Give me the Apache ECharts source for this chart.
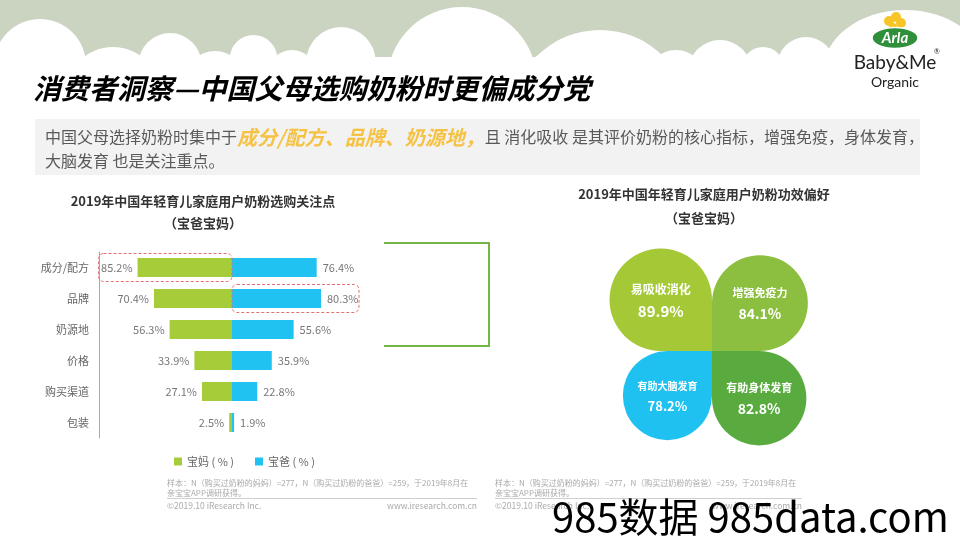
<!DOCTYPE html>
<html><head><meta charset="utf-8">
<script src="https://cdn.jsdelivr.net/npm/echarts@6/dist/echarts.min.js"></script>
<style>html,body{margin:0;padding:0;background:#fff}#c{width:960px;height:540px}</style>
</head><body><div id="c"></div>
<script>
// ---------- data ----------
const categories = ['成分/配方', '品牌', '奶源地', '价格', '购买渠道', '包装'];
const momValues = [85.2, 70.4, 56.3, 33.9, 27.1, 2.5];
const dadValues = [76.4, 80.3, 55.6, 35.9, 22.8, 1.9];
const seriesNames = ['宝妈 ( % )', '宝爸 ( % )'];
const effectNames = ['易吸收消化', '增强免疫力', '有助大脑发育', '有助身体发育'];
const effectValues = [89.9, 84.1, 78.2, 82.8];
const highlightRows = [{ cat: '成分/配方', side: 0 }, { cat: '品牌', side: 1 }];

const pageTitle = '消费者洞察—中国父母选购奶粉时更偏成分党';
const introA = '中国父母选择奶粉时集中于';
const introH = '成分/配方、品牌、奶源地，';
const introB = '且 消化吸收 是其评价奶粉的核心指标，增强免疫，身体发育，';
const introC = '大脑发育 也是关注重点。';
const leftTitle = '2019年中国年轻育儿家庭用户奶粉选购关注点';
const rightTitle = '2019年中国年轻育儿家庭用户奶粉功效偏好';
const subTitle = '（宝爸宝妈）';
const note1 = '样本：N（购买过奶粉的妈妈）=277，N（购买过奶粉的爸爸）=259，于2019年8月在';
const note2 = '亲宝宝APP调研获得。';
const copyright = '©2019.10 iResearch Inc.';
const site = 'www.iresearch.com.cn';
const watermark = '985数据 985data.com';

// ---------- layout / style ----------
const FONT = '"Noto Sans CJK SC", "Noto Sans", sans-serif';
const MOM_COLOR = '#a6cc39';
const DAD_COLOR = '#1fc2f0';
const QUAD = [[-1, 1], [1, 1], [-1, -1], [1, -1]];
const LEAF_COLORS = ['#a5c936', '#8cbf40', '#1ec1ef', '#5aab3f'];
const RADII = [[1, 1, 0, 1], [1, 1, 1, 0], [1, 0, 1, 1], [0, 1, 1, 1]];
const CLOUDS = [[40, 65, 46], [113, 95, 48], [170, 64.5, 31.5], [215, 81, 30], [253.5, 58.8, 23.8],
  [292, 75, 25], [341, 61.6, 34.6], [462, 81.8, 74.8], [600, 119.8, 89.8], [676, 79.7, 29.7],
  [720, 71.8, 31.8], [763, 68, 21], [806, 65.5, 28.5]];

const chart = echarts.init(document.getElementById('c'));

function renderLeaf(params, api) {
  const i = params.dataIndex;
  const c0 = api.coord([0, 0]);
  const c1 = api.coord([api.value(0), api.value(1)]);
  const x = Math.min(c0[0], c1[0]), y = Math.min(c0[1], c1[1]);
  const w = Math.abs(c1[0] - c0[0]), h = Math.abs(c1[1] - c0[1]);
  const R = Math.min(w, h) / 2;
  const cx = x + w / 2, cy = y + h / 2, s = (w + h) / 2;
  return {
    type: 'group',
    children: [
      { type: 'rect', shape: { x: x, y: y, width: w, height: h, r: RADII[i].map(k => k * R) }, style: { fill: LEAF_COLORS[i] } },
      { type: 'text', x: cx, y: cy - 0.105 * s, style: { text: effectNames[i], fill: '#fff', fontSize: Math.round(s * 0.115), fontWeight: 'bold', fontFamily: FONT, align: 'center', verticalAlign: 'middle' } },
      { type: 'text', x: cx, y: cy + 0.115 * s, style: { text: api.value(2).toFixed(1) + '%', fill: '#fff', fontSize: Math.round(s * 0.148), fontWeight: 'bold', fontFamily: FONT, align: 'center', verticalAlign: 'middle' } }
    ]
  };
}

const graphics = [];
graphics.push({ type: 'rect', silent: true, shape: { x: 0, y: 0, width: 960, height: 57 }, style: { fill: '#cbd4c1' } });
CLOUDS.forEach(c => graphics.push({ type: 'circle', silent: true, shape: { cx: c[0], cy: c[1], r: c[2] }, style: { fill: '#fff' } }));
graphics.push({ type: 'ellipse', silent: true, shape: { cx: 905, cy: 72, rx: 82, ry: 62 }, style: { fill: '#fff' } });
// logo
[[889, 21, 5], [896, 17, 5], [901, 23, 5], [893, 27, 4]].forEach(c => graphics.push({ type: 'circle', silent: true, shape: { cx: c[0], cy: c[1], r: c[2] }, style: { fill: '#f8c527' } }));
graphics.push({ type: 'ellipse', silent: true, shape: { cx: 895, cy: 38, rx: 23, ry: 10.5 }, style: { fill: '#2f8f3a', stroke: '#fff', lineWidth: 1.5 } });
graphics.push({ type: 'text', silent: true, x: 895, y: 38, style: { text: 'Arla', fill: '#fff', fontSize: 15, fontWeight: 'bold', fontStyle: 'italic', fontFamily: 'Lato, sans-serif', align: 'center', verticalAlign: 'middle' } });
graphics.push({ type: 'text', silent: true, x: 895, y: 63, style: { text: 'Baby&Me', fill: '#222', fontSize: 19, fontFamily: 'Lato, sans-serif', align: 'center', verticalAlign: 'middle' } });
graphics.push({ type: 'text', silent: true, x: 937, y: 52, style: { text: '®', fill: '#222', fontSize: 7, fontFamily: 'Lato, sans-serif', align: 'center', verticalAlign: 'middle' } });
graphics.push({ type: 'text', silent: true, x: 895, y: 82, style: { text: 'Organic', fill: '#222', fontSize: 14, fontFamily: 'Lato, sans-serif', align: 'center', verticalAlign: 'middle' } });
// page title
graphics.push({ type: 'text', silent: true, x: 33, y: 88, style: { text: pageTitle, fontSize: 28, fontWeight: 'bold', fontStyle: 'italic', fontFamily: FONT, verticalAlign: 'middle',
  fill: { type: 'linear', x: 0, y: 0, x2: 0, y2: 1, colorStops: [{ offset: 0, color: '#7cc444' }, { offset: 1, color: '#3b8d2d' }] } } });
// intro box
graphics.push({ type: 'rect', silent: true, shape: { x: 35, y: 119, width: 885, height: 56 }, style: { fill: '#f2f2f2' } });
graphics.push({ type: 'text', silent: true, x: 45, y: 125, style: {
  text: '{a|' + introA + '}{h|' + introH + '}{a|' + introB + '}\n{a|' + introC + '}',
  rich: {
    a: { fontSize: 16, fill: '#595959', fontFamily: FONT, lineHeight: 24 },
    h: { fontSize: 20, fill: '#f6c244', fontWeight: 'bold', fontStyle: 'italic', fontFamily: FONT, lineHeight: 24 }
  } } });
// chart titles
[[203, 201, leftTitle], [203, 223, subTitle], [704, 194, rightTitle], [704, 218, subTitle]].forEach(t =>
  graphics.push({ type: 'text', silent: true, x: t[0], y: t[1], style: { text: t[2], fill: '#333', fontSize: 13, fontWeight: 'bold', fontFamily: FONT, align: 'center', verticalAlign: 'middle' } }));
// green bracket
graphics.push({ type: 'polyline', silent: true, shape: { points: [[384, 243], [489, 243], [489, 346], [384, 346]] }, style: { stroke: '#74b544', lineWidth: 2, fill: null } });
// footnotes
[[167, 477], [495, 802]].forEach(f => {
  graphics.push({ type: 'text', silent: true, x: f[0], y: 478, style: { text: note1 + '\n' + note2, fill: '#aaa', fontSize: 8, lineHeight: 10, fontFamily: FONT } });
  graphics.push({ type: 'line', silent: true, shape: { x1: f[0], y1: 498.5, x2: f[1], y2: 498.5 }, style: { stroke: '#cfcfcf', lineWidth: 1 } });
  graphics.push({ type: 'text', silent: true, x: f[0], y: 506, style: { text: copyright, fill: '#aaa', fontSize: 8.5, fontFamily: FONT, verticalAlign: 'middle' } });
  graphics.push({ type: 'text', silent: true, x: f[1], y: 506, style: { text: site, fill: '#aaa', fontSize: 8.5, fontFamily: FONT, align: 'right', verticalAlign: 'middle' } });
});
// watermark
graphics.push({ type: 'text', silent: true, x: 552, y: 517, z: 100, style: { text: watermark, fill: '#000', fontSize: 40, fontFamily: FONT, verticalAlign: 'middle' } });

const option = {
  animation: false,
  grid: [
    { left: 99, top: 252, width: 266, height: 186 },
    { left: 598, top: 237, width: 228, height: 228 }
  ],
  xAxis: [
    { gridIndex: 0, type: 'value', min: -120, max: 120, show: false },
    { gridIndex: 1, type: 'value', min: -100, max: 100, show: false }
  ],
  yAxis: [
    { gridIndex: 0, type: 'category', data: categories, inverse: true,
      axisLine: { show: true, onZero: false, lineStyle: { color: '#aaa' } }, axisTick: { show: false },
      axisLabel: { color: '#666', fontSize: 11, margin: 10, fontFamily: FONT } },
    { gridIndex: 1, type: 'value', min: -100, max: 100, show: false }
  ],
  legend: {
    data: seriesNames, left: 169, top: 451, itemWidth: 8, itemHeight: 8, itemGap: 21, icon: 'rect',
    textStyle: { color: '#666', fontSize: 11, fontFamily: FONT }
  },
  series: [
    { name: seriesNames[0], type: 'bar', stack: 's', xAxisIndex: 0, yAxisIndex: 0, barWidth: 19,
      data: momValues.map(v => -v), itemStyle: { color: MOM_COLOR },
      label: { show: true, position: 'left', distance: 5, color: '#777', fontSize: 11, fontFamily: FONT,
        formatter: p => Math.abs(p.value).toFixed(1) + '%' } },
    { name: seriesNames[1], type: 'bar', stack: 's', xAxisIndex: 0, yAxisIndex: 0, barWidth: 19,
      data: dadValues, itemStyle: { color: DAD_COLOR },
      label: { show: true, position: 'right', distance: 6, color: '#777', fontSize: 11, fontFamily: FONT,
        formatter: p => p.value.toFixed(1) + '%' } },
    { type: 'custom', coordinateSystem: 'cartesian2d', xAxisIndex: 1, yAxisIndex: 1,
      encode: { x: 0, y: 1 }, renderItem: renderLeaf,
      data: effectValues.map((v, i) => ({ name: effectNames[i], value: [QUAD[i][0] * v, QUAD[i][1] * v, v] })) }
  ],
  graphic: graphics
};
chart.setOption(option);

// dashed highlight boxes, positioned through the chart's scales
const boxes = highlightRows.map(hr => {
  const idx = categories.indexOf(hr.cat);
  const center = chart.convertToPixel({ gridIndex: 0 }, [0, idx]);
  const val = hr.side === 0 ? -momValues[idx] : dadValues[idx];
  const end = chart.convertToPixel({ gridIndex: 0 }, [val, idx])[0];
  const x1 = hr.side === 0 ? end - 39 : center[0];
  const x2 = hr.side === 0 ? center[0] : end + 38;
  return { type: 'rect', silent: true, z: 50, shape: { x: x1, y: center[1] - 14, width: x2 - x1, height: 28, r: 5 },
    style: { fill: null, stroke: '#e27272', lineWidth: 1, lineDash: [3, 2] } };
});
chart.setOption({ graphic: graphics.concat(boxes) });
</script>
</body></html>
